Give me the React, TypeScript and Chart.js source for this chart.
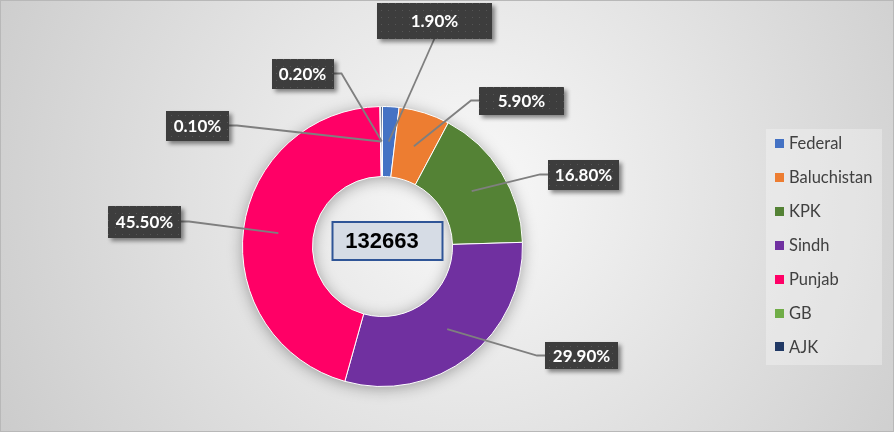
import { useEffect, useRef } from "react";
import { Chart, registerables } from "chart.js";
Chart.register(...registerables);

const categories = ["Federal", "Baluchistan", "KPK", "Sindh", "Punjab", "GB", "AJK"];
const shares = [1.9, 5.9, 16.8, 29.9, 45.5, 0.1, 0.2];
const valueLabels = ["1.90%", "5.90%", "16.80%", "29.90%", "45.50%", "0.10%", "0.20%"];
const totalLabel = "132663";
const colors = ["#4472c4", "#ed7d31", "#548235", "#7030a0", "#ff0066", "#70ad47", "#203864"];

// layout only: label box centre offsets from doughnut centre, box sizes, leader side
const labelLayout = [
  { dx: 52, dy: -226, w: 115, h: 36, side: "bottom" },
  { dx: 139, dy: -146, w: 85, h: 28, side: "left" },
  { dx: 201, dy: -72, w: 71, h: 30, side: "left" },
  { dx: 199, dy: 109, w: 73, h: 27, side: "left" },
  { dx: -238, dy: -25, w: 73, h: 32, side: "right" },
  { dx: -185, dy: -121, w: 63, h: 30, side: "right" },
  { dx: -80, dy: -173, w: 62, h: 30, side: "right" },
];

function makePattern(ctx: CanvasRenderingContext2D) {
  const t = document.createElement("canvas");
  t.width = 7;
  t.height = 7;
  const c = t.getContext("2d")!;
  c.fillStyle = "#3d3d3d";
  c.fillRect(0, 0, 7, 7);
  c.fillStyle = "#565656";
  c.fillRect(3, 3, 1, 1);
  return ctx.createPattern(t, "repeat");
}

const bgPlugin = {
  id: "bgPlugin",
  beforeDraw(chart: any) {
    const { ctx, width, height } = chart;
    ctx.save();
    const g = ctx.createRadialGradient(470, 190, 10, 470, 190, 560);
    g.addColorStop(0, "#f8f8f8");
    g.addColorStop(1, "#c9c9c9");
    ctx.fillStyle = g;
    ctx.fillRect(0, 0, width, height);
    ctx.strokeStyle = "#b8b8b8";
    ctx.lineWidth = 1;
    ctx.strokeRect(0.5, 0.5, width - 1, height - 1);
    ctx.restore();
  },
  beforeDatasetsDraw(chart: any) {
    const meta = chart.getDatasetMeta(0);
    const a = meta.data[0];
    if (!a) return;
    const { x, y, innerRadius, outerRadius } = a.getProps(["x", "y", "innerRadius", "outerRadius"], true);
    const ctx = chart.ctx;
    ctx.save();
    ctx.shadowColor = "rgba(0,0,0,0.38)";
    ctx.shadowBlur = 16;
    ctx.shadowOffsetY = 2;
    ctx.beginPath();
    ctx.arc(x, y, outerRadius - 1, 0, Math.PI * 2);
    ctx.arc(x, y, innerRadius + 1, 0, Math.PI * 2, true);
    ctx.fillStyle = "#888";
    ctx.fill();
    ctx.restore();
  },
  afterDraw(chart: any) {
    const ctx: CanvasRenderingContext2D = chart.ctx;
    const meta = chart.getDatasetMeta(0);
    const first = meta.data[0];
    const cx = first.x;
    const cy = first.y;
    const pattern = makePattern(ctx);

    // leader lines
    meta.data.forEach((arc: any, i: number) => {
      const p = arc.getProps(["startAngle", "endAngle", "innerRadius", "outerRadius"], true);
      const mid = (p.startAngle + p.endAngle) / 2;
      const r = (p.innerRadius + p.outerRadius) / 2;
      const ax = cx + Math.cos(mid) * r;
      const ay = cy + Math.sin(mid) * r;
      const L = labelLayout[i];
      const bx = cx + L.dx;
      const by = cy + L.dy;
      ctx.save();
      ctx.strokeStyle = "#7f7f7f";
      ctx.lineWidth = 1.8;
      ctx.beginPath();
      if (L.side === "bottom") {
        ctx.moveTo(bx, by + L.h / 2);
      } else if (L.side === "left") {
        ctx.moveTo(bx - L.w / 2, by);
        ctx.lineTo(bx - L.w / 2 - 8, by);
      } else {
        ctx.moveTo(bx + L.w / 2, by);
        ctx.lineTo(bx + L.w / 2 + 8, by);
      }
      ctx.lineTo(ax, ay);
      ctx.stroke();
      ctx.restore();
    });

    // label boxes
    labelLayout.forEach((L, i) => {
      const bx = cx + L.dx;
      const by = cy + L.dy;
      ctx.save();
      ctx.shadowColor = "rgba(0,0,0,0.45)";
      ctx.shadowBlur = 4;
      ctx.shadowOffsetX = 3;
      ctx.shadowOffsetY = 3;
      ctx.fillStyle = pattern || "#3d3d3d";
      ctx.fillRect(Math.round(bx - L.w / 2), Math.round(by - L.h / 2), L.w, L.h);
      ctx.restore();
      ctx.save();
      ctx.fillStyle = "#ffffff";
      ctx.font = "bold 17px Lato";
      ctx.textAlign = "center";
      ctx.textBaseline = "middle";
      ctx.fillText(valueLabels[i], bx, by + 1);
      ctx.restore();
    });

    // centre total box
    ctx.save();
    ctx.fillStyle = "#d6dce5";
    ctx.fillRect(cx - 50, cy - 24.5, 110, 38);
    ctx.strokeStyle = "#2f5597";
    ctx.lineWidth = 2;
    ctx.strokeRect(cx - 50, cy - 24.5, 110, 38);
    ctx.fillStyle = "#000";
    ctx.font = "bold 22px 'Liberation Sans', Arial";
    ctx.textAlign = "center";
    ctx.textBaseline = "middle";
    ctx.fillText(totalLabel, cx - 0.5, cy - 4.5);
    ctx.restore();

    // legend
    const lx = 766, ly = 129, lw = 116, lh = 236;
    ctx.save();
    ctx.fillStyle = "rgba(255,255,255,0.3)";
    ctx.fillRect(lx, ly, lw, lh);
    categories.forEach((name, i) => {
      const iy = 143.5 + i * 33.9;
      ctx.fillStyle = colors[i];
      ctx.fillRect(775, Math.round(iy - 4.5), 9, 9);
      ctx.fillStyle = "#404040";
      ctx.font = "16.5px Lato";
      ctx.textAlign = "left";
      ctx.textBaseline = "middle";
      ctx.fillText(name, 789, iy + 0.5);
    });
    ctx.restore();
  },
};

export default function App() {
  const ref = useRef<HTMLCanvasElement | null>(null);
  useEffect(() => {
    document.body.style.margin = "0";
    const chart = new Chart(ref.current!, {
      type: "doughnut",
      data: {
        labels: categories,
        datasets: [
          {
            data: shares,
            backgroundColor: colors,
            borderColor: "#ffffff",
            borderWidth: 1,
          },
        ],
      },
      options: {
        animation: false,
        responsive: true,
        maintainAspectRatio: false,
        cutout: "50%",
        events: [],
        layout: { padding: { left: 242, right: 371, top: 106, bottom: 45 } },
        plugins: {
          legend: { display: false },
          tooltip: { enabled: false },
        },
      },
      plugins: [bgPlugin],
    });
    return () => chart.destroy();
  }, []);
  return (
    <div style={{ position: "fixed", left: 0, top: 0, width: 894, height: 432 }}>
      <canvas ref={ref} />
    </div>
  );
}
